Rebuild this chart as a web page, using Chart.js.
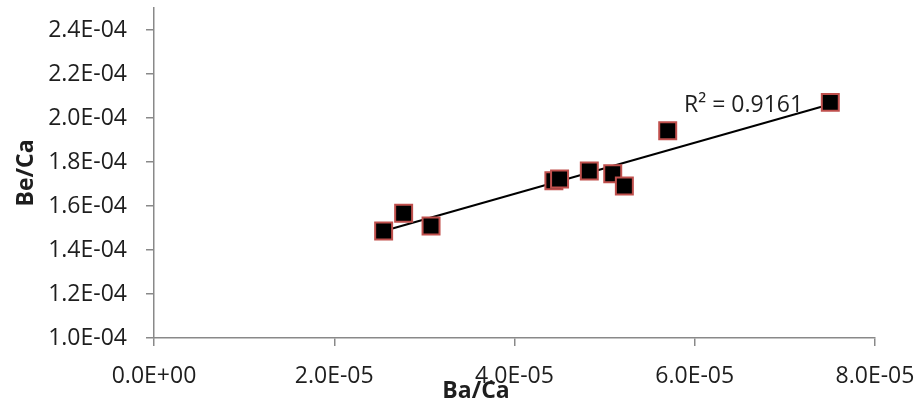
<!DOCTYPE html>
<html>
<head>
<meta charset="utf-8">
<script src="https://cdn.jsdelivr.net/npm/chart.js@4"></script>
<style>
  html, body { margin: 0; padding: 0; background: #fff; }
  #chart { display: block; }
</style>
</head>
<body>
<canvas id="chart" width="914" height="407"></canvas>
<script>
// Ba/Ca and Be/Ca ratios
const baCa = [2.548e-5, 2.77e-5, 3.074e-5, 4.437e-5, 4.5e-5, 4.83e-5, 5.09e-5, 5.219e-5, 5.7e-5, 7.504e-5];
const beCa = [1.486e-4, 1.567e-4, 1.509e-4, 1.715e-4, 1.723e-4, 1.759e-4, 1.747e-4, 1.691e-4, 1.942e-4, 2.071e-4];

const xTicks = [0, 2e-5, 4e-5, 6e-5, 8e-5];
const yTicks = [1.0e-4, 1.2e-4, 1.4e-4, 1.6e-4, 1.8e-4, 2.0e-4, 2.2e-4, 2.4e-4];
const yMax = 2.5e-4;

const rSquaredText = "R\u00B2 = 0.9161";
const xTitle = "Ba/Ca";
const yTitle = "Be/Ca";

const axisColor = "#898989";
const textColor = "#1e1e1e";
const fontFamily = "'Open Sans', sans-serif";

function formatSci(value) {
  const [mant, exp] = value.toExponential(1).split("e");
  const sign = exp[0] === "-" ? "-" : "+";
  const digits = exp.replace(/[+-]/, "").padStart(2, "0");
  return `${mant}E${sign}${digits}`;
}

function linearFit(xs, ys) {
  const n = xs.length;
  const mx = xs.reduce((a, b) => a + b, 0) / n;
  const my = ys.reduce((a, b) => a + b, 0) / n;
  let sxy = 0;
  let sxx = 0;
  xs.forEach((x, i) => {
    sxy += (x - mx) * (ys[i] - my);
    sxx += (x - mx) * (x - mx);
  });
  const slope = sxy / sxx;
  return { slope, intercept: my - slope * mx };
}

const fit = linearFit(baCa, beCa);
const xMin = Math.min(...baCa);
const xMaxData = Math.max(...baCa);
const trend = [xMin, xMaxData].map((x) => ({ x, y: fit.slope * x + fit.intercept }));

const points = baCa.map((x, i) => ({ x, y: beCa[i] }));

function keepTicks(list) {
  return (scale) => {
    scale.ticks = list.map((value) => ({ value }));
  };
}

const annotations = {
  id: "annotations",
  afterDraw(chart) {
    const ctx = chart.ctx;
    ctx.save();
    ctx.fillStyle = textColor;
    ctx.textBaseline = "middle";

    ctx.font = `23px ${fontFamily}`;
    ctx.textAlign = "left";
    ctx.fillText(rSquaredText, 684, 105);

    ctx.font = `bold 23px ${fontFamily}`;
    ctx.textAlign = "center";
    ctx.fillText(xTitle, 476, 391);
    ctx.restore();
  },
};

new Chart(document.getElementById("chart"), {
  type: "scatter",
  data: {
    datasets: [
      {
        label: "Be/Ca",
        data: points,
        order: 0,
        pointStyle: "rect",
        pointRadius: 12,
        pointHoverRadius: 12,
        backgroundColor: "#000000",
        borderColor: "#c0504d",
        pointBorderWidth: 2,
      },
      {
        type: "line",
        label: "Trend",
        data: trend,
        order: 1,
        borderColor: "#000000",
        borderWidth: 2,
        pointRadius: 0,
        fill: false,
      },
    ],
  },
  options: {
    responsive: false,
    animation: false,
    layout: {
      autoPadding: false,
      padding: { top: 8, right: 39, left: 0, bottom: 0 },
    },
    plugins: {
      legend: { display: false },
      tooltip: { enabled: false },
    },
    scales: {
      x: {
        type: "linear",
        min: 0,
        max: xTicks[xTicks.length - 1],
        afterBuildTicks: keepTicks(xTicks),
        afterFit: (scale) => {
          scale.height = 69;
          scale.paddingRight = 0;
          scale.paddingLeft = 0;
        },
        grid: {
          drawOnChartArea: false,
          drawTicks: true,
          tickLength: 8,
          color: axisColor,
          lineWidth: 1.5,
        },
        border: { display: true, color: axisColor, width: 1.5 },
        ticks: {
          font: { family: fontFamily, size: 23 },
          color: textColor,
          padding: 17,
          maxRotation: 0,
          callback: (value) => formatSci(value),
        },
      },
      y: {
        type: "linear",
        min: yTicks[0],
        max: yMax,
        afterBuildTicks: keepTicks(yTicks),
        afterFit: (scale) => {
          scale.width = 154;
          scale.paddingTop = 0;
          scale.paddingBottom = 0;
        },
        grid: {
          drawOnChartArea: false,
          drawTicks: true,
          tickLength: 8,
          color: axisColor,
          lineWidth: 1.5,
        },
        border: { display: true, color: axisColor, width: 1.5 },
        ticks: {
          font: { family: fontFamily, size: 23 },
          color: textColor,
          padding: 19,
          callback: (value) => formatSci(value),
        },
        title: {
          display: true,
          text: yTitle,
          color: textColor,
          font: { family: fontFamily, size: 23, weight: "bold" },
          padding: { top: 13, bottom: 0 },
        },
      },
    },
  },
  plugins: [annotations],
});
</script>
</body>
</html>
